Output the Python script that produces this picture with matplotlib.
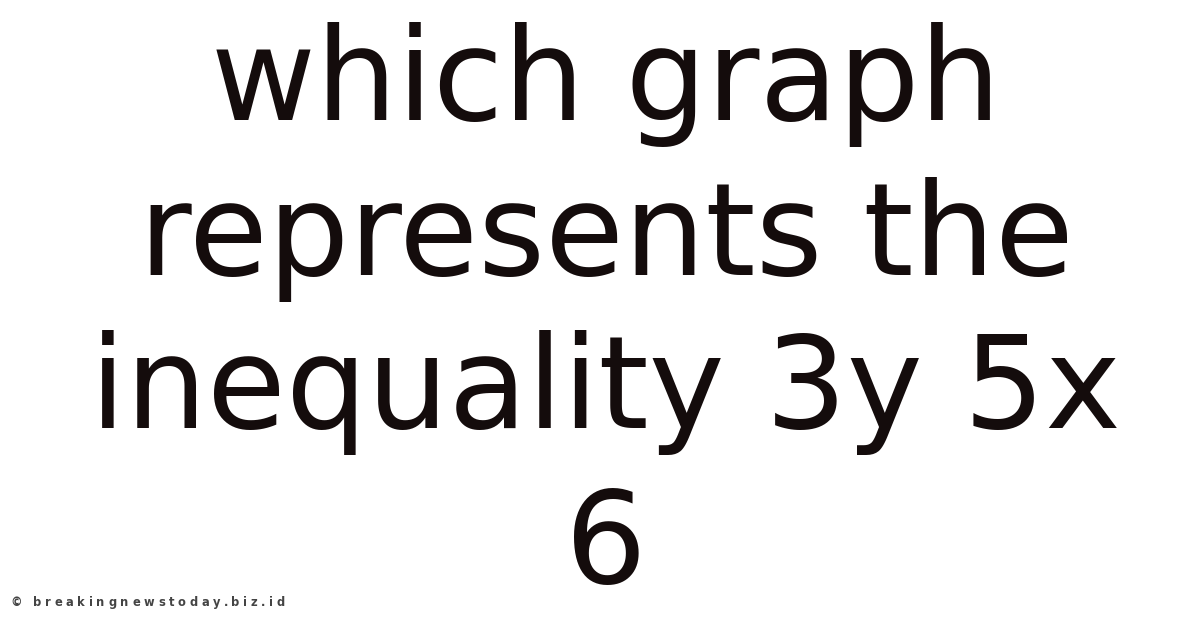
import matplotlib
matplotlib.use('Agg')
import matplotlib.pyplot as plt
from matplotlib.font_manager import FontProperties
from matplotlib.textpath import text_to_path

# title lines and their baselines (pixels from top)
LINES = ['which graph', 'represents the', 'inequality 3y 5x', '6']
BASELINES = [120, 275, 428, 583]
WATERMARK = '\u00a9 breakingnewstoday.biz.id'

W, H = 1200, 628
DPI = 100
TEXT_COLOR = '#140c0c'

fig = plt.figure(figsize=(W / DPI, H / DPI), dpi=DPI)
fig.patch.set_facecolor('white')

for line, base in zip(LINES, BASELINES):
    fig.text(606 / W, 1 - base / H, line, ha='center', va='baseline',
             fontsize=92.3, color=TEXT_COLOR, family='DejaVu Sans')

# watermark is wide and letter-spaced: place it char by char
wm_prop = FontProperties(family='DejaVu Sans', weight='bold', size=8.3)
px = DPI / 72.0


def width_px(s):
    w, _, _ = text_to_path.get_text_width_height_descent(s, wm_prop, ismath=False)
    return w * px


wm_left, wm_right = 10, 285
natural = width_px(WATERMARK)
gap = (wm_right - wm_left - natural) / (len(WATERMARK) - 1)
for i, ch in enumerate(WATERMARK):
    x = wm_left + width_px(WATERMARK[:i]) + i * gap
    fig.text(x / W, 1 - 606 / H, ch, ha='left', va='baseline',
             fontproperties=wm_prop, color='#444444')

fig.savefig('out.png', dpi=DPI, facecolor='white')
